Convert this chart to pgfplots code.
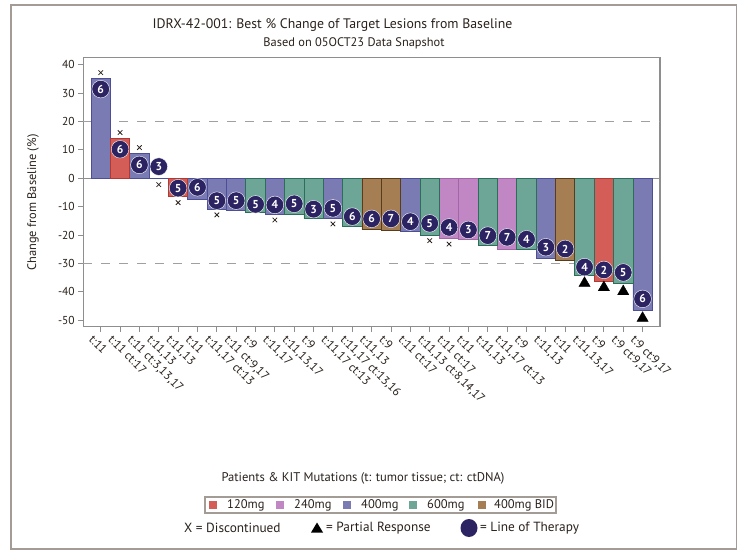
\documentclass[border=0pt]{standalone}
\usepackage{fontspec}
\setmainfont{PT Sans}
\usepackage{pgfplots}
\pgfplotsset{compat=1.18}
\usepackage{pgfplotstable}

\definecolor{c120}{HTML}{D45E57}
\definecolor{c120b}{HTML}{B03A33}
\definecolor{c240}{HTML}{C187C4}
\definecolor{c240b}{HTML}{A266A6}
\definecolor{c400}{HTML}{7B7BB4}
\definecolor{c400b}{HTML}{4D4E98}
\definecolor{c600}{HTML}{6DA697}
\definecolor{c600b}{HTML}{2C6E5A}
\definecolor{cBID}{HTML}{A67E54}
\definecolor{cBIDb}{HTML}{5A3B1C}
\definecolor{navy}{HTML}{2C2462}
\definecolor{framegray}{HTML}{A39C96}
\definecolor{axisgray}{HTML}{8E8E8E}
\definecolor{refgray}{HTML}{A0A0A0}
\definecolor{txt}{HTML}{2A211C}

% bars by dose group (x = patient index, y = best % change)
\pgfplotstableread{
x y
0 35.2
2 8.7
3 0
5 -7.4
6 -10.9
7 -11.2
9 -12.6
12 -14.1
16 -18.6
23 -28.3
28 -46.5
}\tfour
\pgfplotstableread{
x y
1 14.1
4 -6.5
26 -36.2
}\tone
\pgfplotstableread{
x y
18 -21.1
19 -21.7
21 -25.0
}\ttwo
\pgfplotstableread{
x y
8 -11.9
10 -12.6
11 -14.1
13 -17.0
17 -20.0
20 -23.7
22 -25.2
25 -34.4
27 -37.0
}\tsix
\pgfplotstableread{
x y
14 -18.2
15 -18.4
24 -28.9
}\tbid
% line of therapy circles
\pgfplotstableread{
x y lot
0 31.4 6
1 10.2 6
2 4.7 6
3 4.1 3
4 -3.5 5
5 -3.2 6
6 -7.9 5
7 -7.9 5
8 -9.2 5
9 -9.4 4
10 -9.0 5
11 -10.9 3
12 -10.6 5
13 -13.5 6
14 -14.3 6
15 -14.3 7
16 -15.3 4
17 -15.9 5
18 -17.3 4
19 -18.2 3
20 -20.2 7
21 -20.8 7
22 -21.5 4
23 -24.3 3
24 -24.9 2
25 -31.3 4
26 -32.3 2
27 -33.2 5
28 -42.5 6
}\tlot
% discontinued
\pgfplotstableread{
x y
0 37.2
1 16.1
2 10.8
3 -2.25
4 -8.6
6 -12.9
9 -14.7
12 -16.1
17 -22.0
18 -23.2
}\tdisc
% partial response
\pgfplotstableread{
x y
25 -37.0
26 -38.5
27 -39.9
28 -49.3
}\tpr

\begin{document}
\begin{tikzpicture}
\useasboundingbox (0pt,0pt) rectangle (738pt,552pt);
\draw[framegray, line width=1.3pt] (11pt,3pt) rectangle (736.5pt,547pt);
\node[font=\fontsize{13.8}{16}\selectfont, text=txt] at (332.5pt,527pt) {IDRX-42-001: Best \% Change of Target Lesions from Baseline};
\node[font=\fontsize{12.4}{14}\selectfont, text=txt] at (354pt,509pt) {Based on 05OCT23 Data Snapshot};
\node[font=\fontsize{12.4}{14}\selectfont, text=txt, rotate=90] at (33pt,349.5pt) {Change from Baseline (\%)};
\node[font=\fontsize{12.6}{14}\selectfont, text=txt] at (363pt,74pt) {Patients \& KIT Mutations (t: tumor tissue; ct: ctDNA)};

\begin{axis}[
  at={(83.3pt,225.3pt)}, anchor=south west,
  width=576.7pt, height=269.4pt, scale only axis,
  xmin=-0.9, xmax=28.9, ymin=-52.3, ymax=42.6,
  xtick={0,...,28},
  xticklabels={{t:11},{t:11 ct:17},{t:11 ct:3,13,17},{t:11,13},{t:11,13},{t:11},{t:11,17 ct:13},{t:11 ct:9,17},{t:9},{t:11,17},{t:11,13,17},{t:9},{t:11,17 ct:13},{t:11,17 ct:13,16},{t:11,13},{t:9},{t:11 ct:17},{t:11,13 ct:8,14,17},{t:11 ct:17},{t:11},{t:11,13},{t:11,17 ct:13},{t:9},{t:11,13},{t:11},{t:11,13,17},{t:9},{t:9 ct:9,17},{t:9 ct:9,17}},
  ytick={-50,-40,...,40},
  xtick pos=bottom, ytick pos=left,
  tick align=outside,
  major tick length=5pt,
  every tick/.style={axisgray, line width=1pt},
  axis line style={axisgray, line width=1.3pt},
  /pgf/number format/assume math mode=true,
  yticklabel style={font=\fontsize{11.5}{13}\selectfont, text=txt},
  xticklabel style={font=\fontsize{12}{13}\selectfont, text=txt, rotate=-45, anchor=north west, xshift=-6pt, yshift=-3pt},
  clip=false,
]
\addplot[refgray, line width=1.4pt, dash pattern=on 9pt off 9pt] coordinates {(-0.9,20) (28.9,20)};
\addplot[refgray, line width=1.4pt, dash pattern=on 9pt off 9pt] coordinates {(-0.9,-30) (28.9,-30)};
\addplot[axisgray, line width=1.2pt] coordinates {(-0.9,0) (28.9,0)};

\addplot[ybar, bar width=1, bar shift=0pt, fill=c400, draw=c400b, line width=0.8pt] table[x=x,y=y] {\tfour};
\addplot[ybar, bar width=1, bar shift=0pt, fill=c120, draw=c120b, line width=0.8pt] table[x=x,y=y] {\tone};
\addplot[ybar, bar width=1, bar shift=0pt, fill=c240, draw=c240b, line width=0.8pt] table[x=x,y=y] {\ttwo};
\addplot[ybar, bar width=1, bar shift=0pt, fill=c600, draw=c600b, line width=0.8pt] table[x=x,y=y] {\tsix};
\addplot[ybar, bar width=1, bar shift=0pt, fill=cBID, draw=cBIDb, line width=0.8pt] table[x=x,y=y] {\tbid};

\addplot[only marks, mark=*, mark size=8.8pt, mark options={fill=navy, draw=white, line width=0.4pt},
  point meta=explicit symbolic,
  nodes near coords={\textbf{\pgfplotspointmeta}},
  every node near coord/.style={anchor=center, text=white, font=\fontsize{11.5}{12}\selectfont}]
  table[x=x,y=y,meta=lot] {\tlot};

\addplot[only marks, mark=x, mark size=3.2pt, mark options={draw=txt, line width=0.8pt}] table[x=x,y=y] {\tdisc};
\addplot[only marks, mark=triangle*, mark size=6.5pt, mark options={fill=black, draw=black}] table[x=x,y=y] {\tpr};
\end{axis}

% legend
\draw[framegray, line width=1.2pt] (205pt,39pt) rectangle (556pt,55pt);
\begin{scope}[font=\fontsize{12.5}{14}\selectfont, text=txt]
\fill[c120] (209pt,43pt) rectangle (217pt,51pt);
\node[anchor=west, inner sep=0pt] at (227pt,47pt) {120mg};
\fill[c240] (276pt,43pt) rectangle (284pt,51pt);
\node[anchor=west, inner sep=0pt] at (294pt,47pt) {240mg};
\fill[c400] (343pt,43pt) rectangle (351pt,51pt);
\node[anchor=west, inner sep=0pt] at (361pt,47pt) {400mg};
\fill[c600] (409pt,43pt) rectangle (417pt,51pt);
\node[anchor=west, inner sep=0pt] at (427pt,47pt) {600mg};
\fill[cBID] (478pt,43pt) rectangle (486pt,51pt);
\node[anchor=west, inner sep=0pt] at (494pt,47pt) {400mg BID};
\end{scope}
\begin{scope}[font=\fontsize{13.3}{15}\selectfont, text=txt]
\node[anchor=west, inner sep=0pt] at (184pt,24pt) {X = Discontinued};
\fill[black] (311pt,19.5pt) -- (323pt,19.5pt) -- (317pt,29.5pt) -- cycle;
\node[anchor=west, inner sep=0pt] at (326pt,24pt) {= Partial Response};
\fill[navy] (469pt,24pt) ellipse [x radius=8.5pt, y radius=9pt];
\node[anchor=west, inner sep=0pt] at (480pt,24pt) {= Line of Therapy};
\end{scope}
\end{tikzpicture}
\end{document}
